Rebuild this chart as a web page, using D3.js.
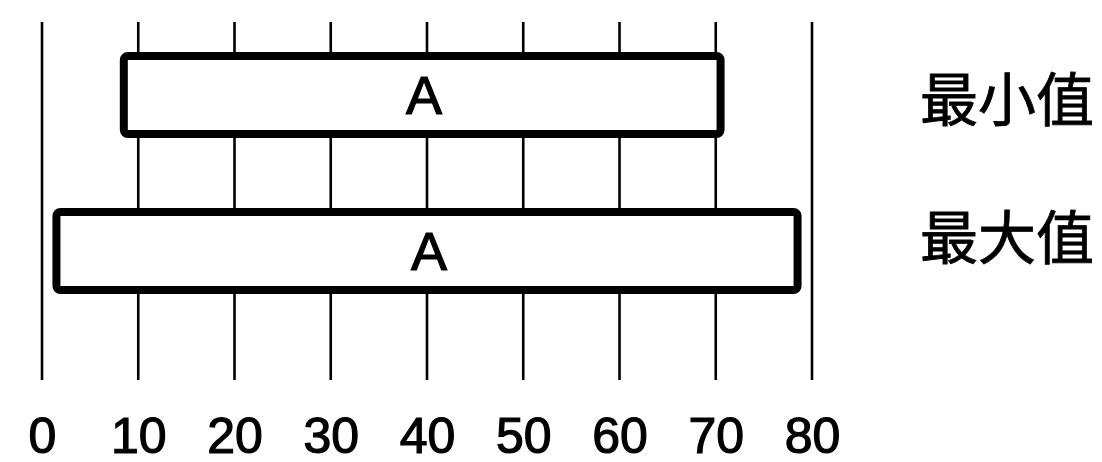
<!DOCTYPE html>
<html>
<head>
<meta charset="utf-8">
<script src="https://cdn.jsdelivr.net/npm/d3@7"></script>
<style>
    html, body { margin: 0; padding: 0; background: #fff; }
    svg { display: block; }
</style>
</head>
<body>
<svg id="chart" width="1102" height="462"></svg>
<script>
// rows, top to bottom
const rowLabels = ['最小值', '最大值'];
const barLabels = ['A', 'A'];
const barStart = [8.5, 1.5];
const barEnd = [70.5, 78.5];
const tickValues = [0, 10, 20, 30, 40, 50, 60, 70, 80];

const svg = d3.select('#chart');

const x = d3.scaleLinear().domain([0, 80]).range([42, 812]);
const y = d3.scaleBand().domain(rowLabels).range([56, 290]).paddingInner(0.5).paddingOuter(0);
// the row names on the right sit a little off the bar centres
const yName = d3.scalePoint().domain(rowLabels).range([100, 238]);

const gridTop = 22;
const gridBottom = 380;

// vertical grid lines, drawn first so the bars cover them
svg.append('g')
    .selectAll('line')
    .data(tickValues)
    .enter()
    .append('line')
    .attr('x1', d => x(d))
    .attr('x2', d => x(d))
    .attr('y1', gridTop)
    .attr('y2', gridBottom)
    .attr('stroke', '#000')
    .attr('stroke-width', 2.6);

// bars
const rows = svg.append('g')
    .selectAll('g')
    .data(rowLabels)
    .enter()
    .append('g');

rows.append('rect')
    .attr('x', (d, i) => x(barStart[i]))
    .attr('y', d => y(d))
    .attr('width', (d, i) => x(barEnd[i]) - x(barStart[i]))
    .attr('height', y.bandwidth())
    .attr('rx', 4)
    .attr('fill', '#fff')
    .attr('stroke', '#000')
    .attr('stroke-width', 8);

rows.append('text')
    .attr('x', (d, i) => x((barStart[i] + barEnd[i]) / 2 + 0.2))
    .attr('y', d => y(d) + y.bandwidth() / 2)
    .attr('dy', '0.36em')
    .attr('text-anchor', 'middle')
    .attr('stroke', '#000')
    .attr('stroke-width', 1.2)
    .style('font-family', '"Liberation Sans", Arial, sans-serif')
    .style('font-size', '54px')
    .text((d, i) => barLabels[i]);

// row labels on the right
rows.append('text')
    .attr('x', 920)
    .attr('y', d => yName(d))
    .attr('dy', '0.36em')
    .attr('stroke', '#000')
    .attr('stroke-width', 0.8)
    .style('font-family', '"Noto Sans CJK SC", sans-serif')
    .style('font-size', '58px')
    .text(d => d);

// bottom axis labels
const axis = d3.axisBottom(x).tickValues(tickValues).tickSize(0).tickPadding(0);
const axisG = svg.append('g')
    .attr('transform', `translate(0, ${gridBottom + 37})`)
    .call(axis);
axisG.select('.domain').remove();
axisG.selectAll('text')
    .attr('fill', '#000')
    .attr('stroke', '#000')
    .attr('stroke-width', 1.2)
    .attr('dy', '0.71em')
    .style('font-family', '"Liberation Sans", Arial, sans-serif')
    .style('font-size', '50px');
</script>
</body>
</html>
